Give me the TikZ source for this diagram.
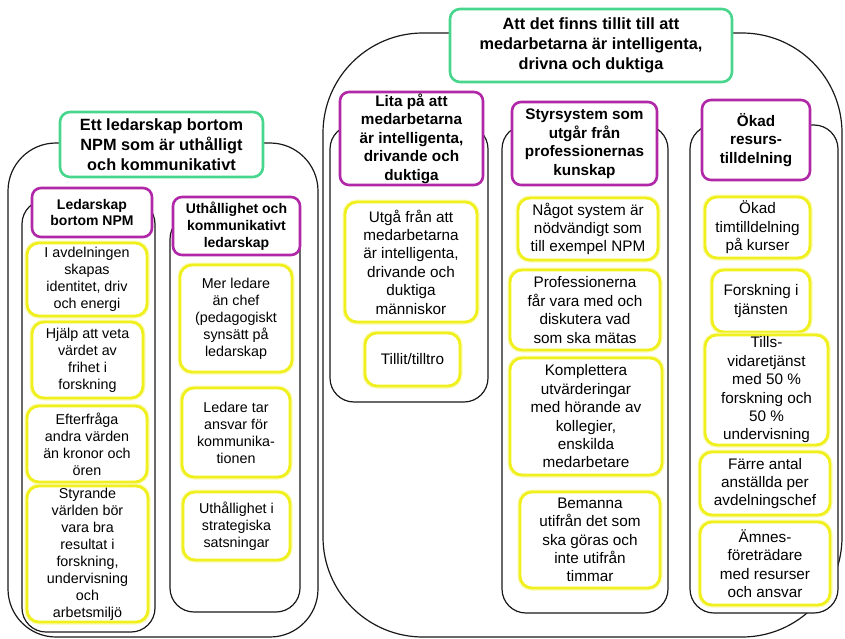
\documentclass[tikz,border=0pt]{standalone}
\usepackage{fontspec}
\setmainfont{Liberation Sans}
\definecolor{grn}{RGB}{72,214,140}
\definecolor{mgt}{RGB}{176,40,168}
\definecolor{ylw}{RGB}{240,240,30}
\tikzset{
  cont/.style={draw=black!90, line width=1.2pt, inner sep=0pt},
  colbox/.style={draw=black!90, line width=1.2pt, fill=white, rounded corners=24pt, inner sep=0pt},
  gbox/.style={draw=grn, line width=2.6pt, fill=white, rounded corners=10pt, align=center, inner sep=0pt,
    font=\bfseries\fontsize{16.3}{20}\selectfont},
  mbox/.style={draw=mgt, line width=2.6pt, fill=white, rounded corners=9pt, align=center, inner sep=0pt,
    font=\bfseries\fontsize{14}{16.8}\selectfont},
  mboxr/.style={mbox, font=\bfseries\fontsize{15.3}{18.5}\selectfont},
  ybox/.style={draw=ylw, line width=2.8pt, fill=white, rounded corners=12pt, align=center, inner sep=0pt,
    preaction={draw=ylw!35, line width=5pt},
    font=\fontsize{14.3}{17}\selectfont},
  yboxr/.style={ybox, font=\fontsize{15.3}{18.4}\selectfont},
}
\newcommand\bx[7]{%
  \pgfmathsetmacro\bxcx{(#3+#5)/2}\pgfmathsetmacro\bxcy{(#4+#6)/2}%
  \pgfmathsetmacro\bxw{#5-#3}\pgfmathsetmacro\bxh{#6-#4}%
  \node[#1, minimum width=\bxw pt, minimum height=\bxh pt] (#2) at (\bxcx,\bxcy) {#7};}
\begin{document}
\begin{tikzpicture}[x=1pt,y=-1pt]
\useasboundingbox (0,0) rectangle (845,639);
% outer containers
\bx{cont, rounded corners=48pt}{outerL}{8}{143}{318}{637}{}
\bx{cont, rounded corners=100pt}{outerR}{323}{33}{842}{637}{}
% columns
\bx{colbox}{colLa}{22}{200}{155}{632}{}
\bx{colbox}{colLb}{170}{215}{300}{612}{}
\bx{colbox}{colRa}{330}{125}{488}{402}{}
\bx{colbox}{colRb}{502}{125}{668}{613}{}
\bx{colbox}{colRc}{690}{125}{838}{613}{}
% green titles
\bx{gbox}{tL}{60}{112}{263}{177}{Ett ledarskap bortom\\NPM som är uthålligt\\och kommunikativt}
\bx{gbox}{tR}{450}{9}{732}{82}{Att det finns tillit till att\\medarbetarna är intelligenta,\\drivna och duktiga}
% magenta headers
\bx{mbox}{mA}{32}{188}{152}{237}{Ledarskap\\bortom NPM}
\bx{mbox}{mB}{173}{197}{300}{255}{Uthållighet och\\kommunikativt\\ledarskap}
\bx{mboxr}{mC}{340}{92}{483}{185}{Lita på att\\medarbetarna\\är intelligenta,\\drivande och\\duktiga}
\bx{mboxr}{mD}{512}{102}{657}{185}{Styrsystem som\\utgår från\\professionernas\\kunskap}
\bx{mboxr}{mE}{702}{100}{810}{180}{Ökad\\resurs-\\tilldelning}
% yellow items, left
\bx{ybox}{y1}{27}{243}{147}{316}{I avdelningen\\skapas\\identitet, driv\\och energi}
\bx{ybox}{y2}{32}{322}{143}{398}{Hjälp att veta\\värdet av\\frihet i\\forskning}
\bx{ybox}{y3}{27}{406}{147}{482}{Efterfråga\\andra värden\\än kronor och\\ören}
\bx{ybox}{y4}{27}{486}{148}{622}{Styrande\\världen bör\\vara bra\\resultat i\\forskning,\\undervisning\\och\\arbetsmiljö}
\bx{ybox}{y5}{180}{265}{292}{372}{Mer ledare\\än chef\\(pedagogiskt\\synsätt på\\ledarskap}
\bx{ybox}{y6}{182}{388}{290}{477}{Ledare tar\\ansvar för\\kommunika-\\tionen}
\bx{ybox}{y7}{183}{492}{290}{560}{Uthållighet i\\strategiska\\satsningar}
% yellow items, right
\bx{yboxr}{y8}{345}{202}{477}{322}{Utgå från att\\medarbetarna\\är intelligenta,\\drivande och\\duktiga\\människor}
\bx{yboxr}{y9}{365}{333}{460}{386}{Tillit/tilltro}
\bx{yboxr}{y10}{518}{198}{658}{260}{Något system är\\nödvändigt som\\till exempel NPM}
\bx{yboxr}{y11}{510}{270}{660}{350}{Professionerna\\får vara med och\\diskutera vad\\som ska mätas}
\bx{yboxr}{y12}{510}{358}{662}{475}{Komplettera\\utvärderingar\\med hörande av\\kollegier,\\enskilda\\medarbetare}
\bx{yboxr}{y13}{520}{492}{660}{588}{Bemanna\\utifrån det som\\ska göras och\\inte utifrån\\timmar}
\bx{yboxr}{y14}{705}{197}{810}{258}{Ökad\\timtilldelning\\på kurser}
\bx{yboxr}{y15}{712}{270}{810}{332}{Forskning i\\tjänsten}
\bx{yboxr}{y16}{705}{335}{828}{445}{Tills-\\vidaretjänst\\med 50 \%\\forskning och\\50 \%\\undervisning}
\bx{yboxr}{y17}{700}{452}{830}{515}{Färre antal\\anställda per\\avdelningschef}
\bx{yboxr}{y18}{700}{522}{830}{605}{Ämnes-\\företrädare\\med resurser\\och ansvar}
\end{tikzpicture}
\end{document}
